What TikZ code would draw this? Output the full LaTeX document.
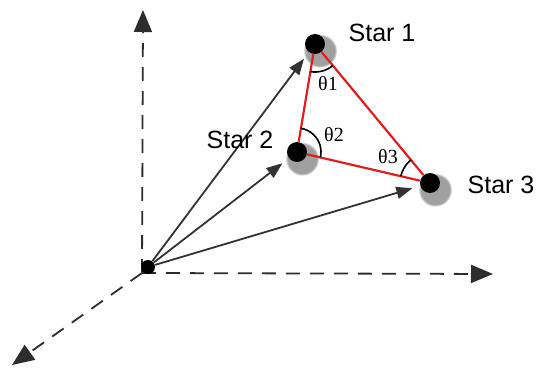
\documentclass[tikz,border=0pt]{standalone}
\usepackage{fontspec}
\setmainfont{Liberation Sans}
\newfontfamily\thetafont{Liberation Serif}
\usepackage{tikz}
\usetikzlibrary{arrows.meta, angles, shadows}
\definecolor{axisgray}{RGB}{45, 45, 45}
\definecolor{vecgray}{RGB}{50, 50, 50}
\definecolor{side}{RGB}{225, 30, 30}

\begin{document}
\begin{tikzpicture}[
    x=0.5pt, y=-0.5pt,
    star/.style = {circle, fill=black, minimum size=10pt, inner sep=0pt,
                   circular drop shadow={shadow xshift=1.5pt, shadow yshift=-2pt,
                                         shadow scale=1.7, opacity=0.75}},
    axis/.style = {dash pattern=on 7pt off 5pt, line width=0.9pt, color=axisgray,
                   -{Triangle[length=11pt, width=9pt]}},
    vec/.style = {line width=0.9pt, color=vecgray, shorten >=4pt,
                  -{Triangle[length=8pt, width=6pt]}},
    edge/.style = {line width=1.1pt, color=side},
    anglearc/.style = {draw, line width=0.8pt},
    lbl/.style = {font=\fontsize{12.5}{14}\selectfont},
    theta/.style = {font=\thetafont\fontsize{10}{12}\selectfont}
  ]
    \useasboundingbox (0,0) rectangle (538,375);

    % axes
    \coordinate (ax) at (142,273);
    \coordinate (up) at (143,10);
    \coordinate (rt) at (493,274);
    \coordinate (dn) at (12,365);
    \draw[axis] (ax) -- (up);
    \draw[axis] (ax) -- (rt);
    \draw[axis] (ax) -- (dn);

    \node[circle, fill=black, minimum size=7pt, inner sep=0pt] (o) at (148,267) {};

    % stars
    \node[star] (s1) at (315,44) {};
    \node[star] (s2) at (297,152) {};
    \node[star] (s3) at (430,183) {};

    \draw[vec] (o) -- (s1);
    \draw[vec] (o) -- (s2);
    \draw[vec] (o) -- (s3);

    \draw[edge] (s1) -- (s2) (s2) -- (s3) (s3) -- (s1);

    \pic[anglearc, angle radius=14pt] {angle = s2--s1--s3};
    \pic[anglearc, angle radius=12pt] {angle = s3--s2--s1};
    \pic[anglearc, angle radius=15pt] {angle = s1--s3--s2};

    \node[lbl] (l1) at (382,33) {Star 1};
    \node[lbl] (l2) at (240,140) {Star 2};
    \node[lbl] (l3) at (501,185) {Star 3};

    \node[theta] (t1) at (328,84) {θ1};
    \node[theta] (t2) at (334,135) {θ2};
    \node[theta] (t3) at (388,157) {θ3};
  \end{tikzpicture}
\end{document}
